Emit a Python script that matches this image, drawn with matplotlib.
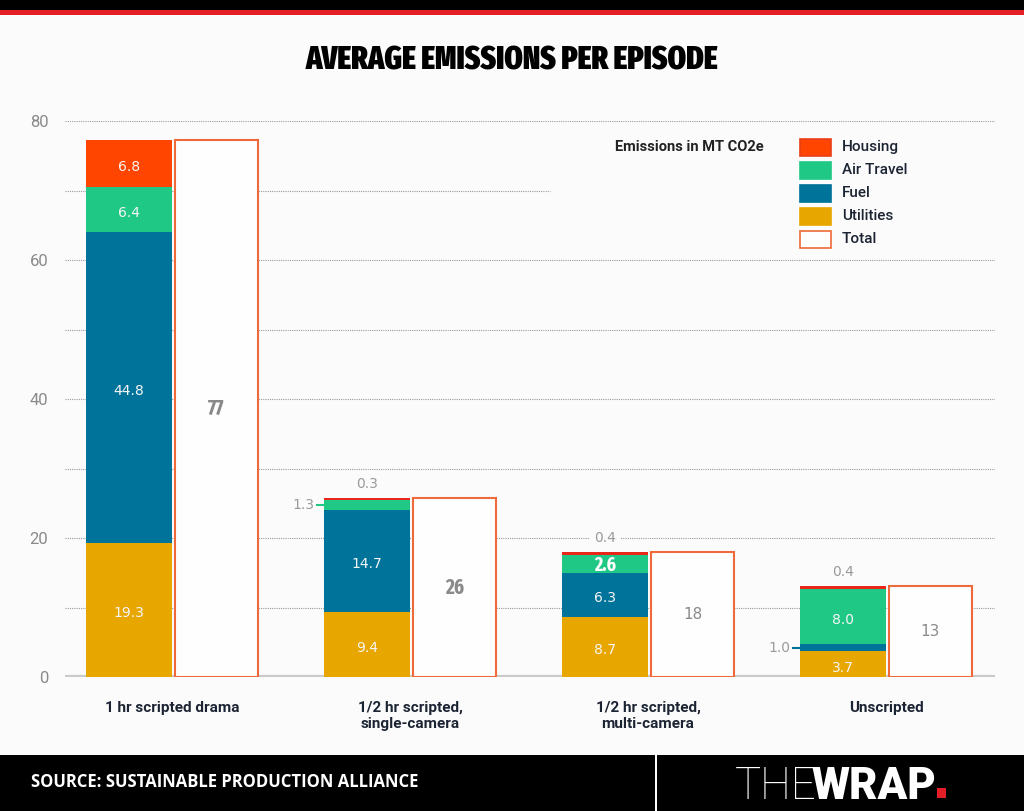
import matplotlib
matplotlib.use("Agg")
import matplotlib.pyplot as plt
import matplotlib.font_manager as fm
from matplotlib.patches import Rectangle

# ---- data ----
categories = ["1 hr scripted drama", "1/2 hr scripted,\nsingle-camera",
              "1/2 hr scripted,\nmulti-camera", "Unscripted"]
series_names = ["Housing", "Air Travel", "Fuel", "Utilities", "Total"]
utilities = [19.3, 9.4, 8.7, 3.7]
fuel = [44.8, 14.7, 6.3, 1.0]
air_travel = [6.4, 1.3, 2.6, 8.0]
housing = [6.8, 0.3, 0.4, 0.4]
total_labels = ["77", "26", "18", "13"]
y_ticks = [0, 20, 40, 60, 80]
grid_values = [10, 20, 30, 40, 50, 60, 70, 80]

c_housing = "#FF4500"
c_air = "#20C886"
c_fuel = "#00739A"
c_util = "#E8A600"
c_total_edge = "#EE6A3A"
bg = "#FBFBFB"


def _w(v):
    if isinstance(v, (int, float)):
        return int(v)
    return fm.weight_dict.get(v, 400)


def pick_condensed(target_weight=850):
    best, best_score = None, None
    stretch_rank = {"ultra-condensed": 0, "extra-condensed": 0, "condensed": 1,
                    "semi-condensed": 3}
    for f in fm.fontManager.ttflist:
        nm = (f.name + " " + f.fname).lower()
        st = f.stretch if isinstance(f.stretch, str) else "normal"
        is_c = ("condensed" in nm or "narrow" in nm or "cond" in nm
                or st in stretch_rank)
        if not is_c or "mono" in nm or "serif" in nm or "italic" in nm \
                or "oblique" in nm or "cjk" in nm:
            continue
        srank = stretch_rank.get(st, 2)
        if "extracondensed" in nm.replace("-", "").replace(" ", ""):
            srank = 0
        elif "semicondensed" in nm.replace("-", "").replace(" ", ""):
            srank = 3
        score = abs(_w(f.weight) - target_weight) / 100.0 + srank
        if best_score is None or score < best_score:
            best, best_score = f, score
    if best is None:
        return fm.FontProperties(family="DejaVu Sans", weight="bold")
    return fm.FontProperties(fname=best.fname)


title_fp = pick_condensed(850)
num_fp = pick_condensed(700)

W, H = 1024, 811
fig = plt.figure(figsize=(W / 100, H / 100), dpi=100, facecolor=bg)


def fx(px):
    return px / W


def fy(py):
    return 1 - py / H


ax = fig.add_axes([fx(65), fy(677), fx(995) - fx(65), (677 - 121) / H])
ax.set_facecolor(bg)
PX = 1 / 238.0  # one pixel in x data units
ax.set_xlim(-107 * PX, 3 + (995 - 886) * PX)
ax.set_ylim(0, 80)
for s in ax.spines.values():
    s.set_visible(False)

for g in grid_values:
    xmax = (550 - 172) * PX if g == 70 else ax.get_xlim()[1]
    ax.hlines(g, ax.get_xlim()[0], xmax, colors="#9a9a9a", linewidth=0.8,
              linestyles=(0, (1, 1)), zorder=0)
ax.axhline(0, color="#CACACA", linewidth=3, zorder=1)

ax.set_yticks(y_ticks)
ax.set_yticklabels([str(v) for v in y_ticks], color="#8a8a8a", fontsize=12,
                   family=["Roboto", "DejaVu Sans"])
ax.tick_params(axis="y", length=0, pad=12)
ax.set_xticks([])

bw = 86 * PX
xs = list(range(len(categories)))
xs_stack = [x - 43 * PX for x in xs]
xs_total = [x + 44.5 * PX for x in xs]

b_fuel = list(utilities)
b_air = [u + f for u, f in zip(utilities, fuel)]
b_house = [u + f + a for u, f, a in zip(utilities, fuel, air_travel)]
totals = [u + f + a + h for u, f, a, h in zip(utilities, fuel, air_travel, housing)]

ax.bar(xs_stack, utilities, bw, color=c_util, zorder=2, linewidth=0)
ax.bar(xs_stack, fuel, bw, bottom=b_fuel, color=c_fuel, zorder=2, linewidth=0)
ax.bar(xs_stack, air_travel, bw, bottom=b_air, color=c_air, zorder=2, linewidth=0)
hcols = [c_housing, "#E8261A", "#E8261A", "#E8261A"]
ax.bar(xs_stack, housing, bw, bottom=b_house, color=hcols, zorder=2, linewidth=0)
ax.bar(xs_total, totals, 83 * PX, facecolor="#FEFEFE", edgecolor=c_total_edge,
       linewidth=1.5, zorder=2)

lab_font = ["DejaVu Sans"]
wcol = "#F6F6F6"


def inside(x, bottom, h, txt):
    ax.text(x, bottom + h / 2 - 0.5, txt, ha="center", va="center", color=wcol,
            fontsize=10, family=lab_font, zorder=4)


inside(xs_stack[0], 0, utilities[0], "19.3")
inside(xs_stack[0], b_fuel[0], fuel[0], "44.8")
inside(xs_stack[0], b_air[0], air_travel[0], "6.4")
inside(xs_stack[0], b_house[0], housing[0], "6.8")
inside(xs_stack[1], 0, utilities[1], "9.4")
inside(xs_stack[1], b_fuel[1], fuel[1], "14.7")
inside(xs_stack[2], 0, utilities[2], "8.7")
inside(xs_stack[2], b_fuel[2], fuel[2], "6.3")
ax.text(xs_stack[2], b_air[2] + air_travel[2] / 2 - 0.2, "2.6", ha="center",
        va="center", color="white", fontproperties=num_fp, fontsize=14, zorder=4)
inside(xs_stack[3], 0, utilities[3], "3.7")
inside(xs_stack[3], b_air[3], air_travel[3], "8.0")

for i, t in enumerate(totals):
    if i < 2:
        ax.text(xs_total[i], t / 2, total_labels[i], ha="center", va="center",
                color="#8a8a8a", fontproperties=num_fp, fontsize=15, zorder=4)
    else:
        ax.text(xs_total[i], t / 2, total_labels[i], ha="center", va="center",
                color="#8a8a8a", fontsize=11, family=lab_font, zorder=4)

gray = "#9a9a9a"
ax.text(xs_stack[1], totals[1] + 2.0, "0.3", ha="center", va="center", color=gray,
        fontsize=10, family=lab_font, zorder=4)
ax.text(xs_stack[2], totals[2] + 2.0, "0.4", ha="center", va="center", color=gray,
        fontsize=10, family=lab_font, zorder=4,
        bbox=dict(boxstyle="square,pad=0.3", facecolor=bg, edgecolor="none"))
ax.text(xs_stack[3], totals[3] + 2.0, "0.4", ha="center", va="center", color=gray,
        fontsize=10, family=lab_font, zorder=4)
y13 = b_air[1] + air_travel[1] / 2
left2 = xs_stack[1] - bw / 2
ax.plot([left2 - 7 * PX, left2], [y13, y13], color=c_air, lw=1.5, zorder=3)
ax.text(left2 - 10 * PX, y13, "1.3", ha="right", va="center", color=gray,
        fontsize=10, family=lab_font, zorder=4)
y10 = b_fuel[3] + fuel[3] / 2
left4 = xs_stack[3] - bw / 2
ax.plot([left4 - 7 * PX, left4], [y10, y10], color=c_fuel, lw=1.5, zorder=3)
ax.text(left4 - 10 * PX, y10, "1.0", ha="right", va="center", color=gray,
        fontsize=10, family=lab_font, zorder=4)

for i, c in enumerate(categories):
    ax.text(xs[i], -3.4, c, ha="center", va="top", color="#1C2433", fontsize=11,
            fontweight="bold", family=["Roboto", "DejaVu Sans"], linespacing=1.25)

leg_font = ["Roboto", "DejaVu Sans"]
fig.text(fx(615), fy(147), "Emissions in MT CO2e", ha="left", va="center",
         color="#222222", fontsize=10.5, fontweight="bold", family=leg_font)
leg_colors = [c_housing, c_air, c_fuel, c_util, "#FEFEFE"]
leg_edges = ["#E8401A", c_air, c_fuel, c_util, c_total_edge]
leg_y = [147, 170, 193, 216, 239]
for name, col, ec, yy in zip(series_names, leg_colors, leg_edges, leg_y):
    fig.patches.append(Rectangle((fx(800), fy(yy + 8.5)), 31 / W, 17 / H,
                                 transform=fig.transFigure, facecolor=col,
                                 edgecolor=ec, linewidth=1.2))
    fig.text(fx(842), fy(yy), name, ha="left", va="center", color="#1C2433",
             fontsize=11, fontweight="medium", family=leg_font)

# title, fitted to the reference width
title = fig.text(0.5, fy(61), "AVERAGE EMISSIONS PER EPISODE", ha="center",
                 va="center", color="black", fontproperties=title_fp, fontsize=30)
if title_fp.get_file() is None:
    title.set_fontweight("bold")
r = fig.canvas.get_renderer()
wpx = title.get_window_extent(r).width
if wpx > 0:
    title.set_fontsize(30 * 413.0 / wpx)

fig.patches.append(Rectangle((0, fy(10)), 1, 10 / H, transform=fig.transFigure,
                             facecolor="black", edgecolor="none"))
fig.patches.append(Rectangle((0, fy(15)), 1, 5 / H, transform=fig.transFigure,
                             facecolor="#E31E24", edgecolor="none"))
fig.patches.append(Rectangle((0, 0), 1, fy(755), transform=fig.transFigure,
                             facecolor="black", edgecolor="none"))
fig.patches.append(Rectangle((fx(655), 0), 2 / W, fy(755), transform=fig.transFigure,
                             facecolor="white", edgecolor="none"))
fig.text(fx(31), fy(782), "SOURCE: SUSTAINABLE PRODUCTION ALLIANCE", ha="left",
         va="center", color="white", fontsize=12, fontweight="bold",
         family=["Open Sans", "Roboto", "DejaVu Sans"])
fig.text(fx(735), fy(799), "THE", ha="left", va="baseline", color="white",
         fontsize=31.5, fontweight="light", family=["Roboto", "Lato", "DejaVu Sans"])
fig.text(fx(812), fy(799), "WRAP", ha="left", va="baseline", color="white",
         fontsize=31.5, fontweight="black", family=["Roboto", "Lato", "DejaVu Sans"])
fig.patches.append(Rectangle((fx(937), fy(798)), 9 / W, 10 / H, transform=fig.transFigure,
                             facecolor="#E31E24", edgecolor="none"))

fig.savefig("out.png", dpi=100, facecolor=bg)
